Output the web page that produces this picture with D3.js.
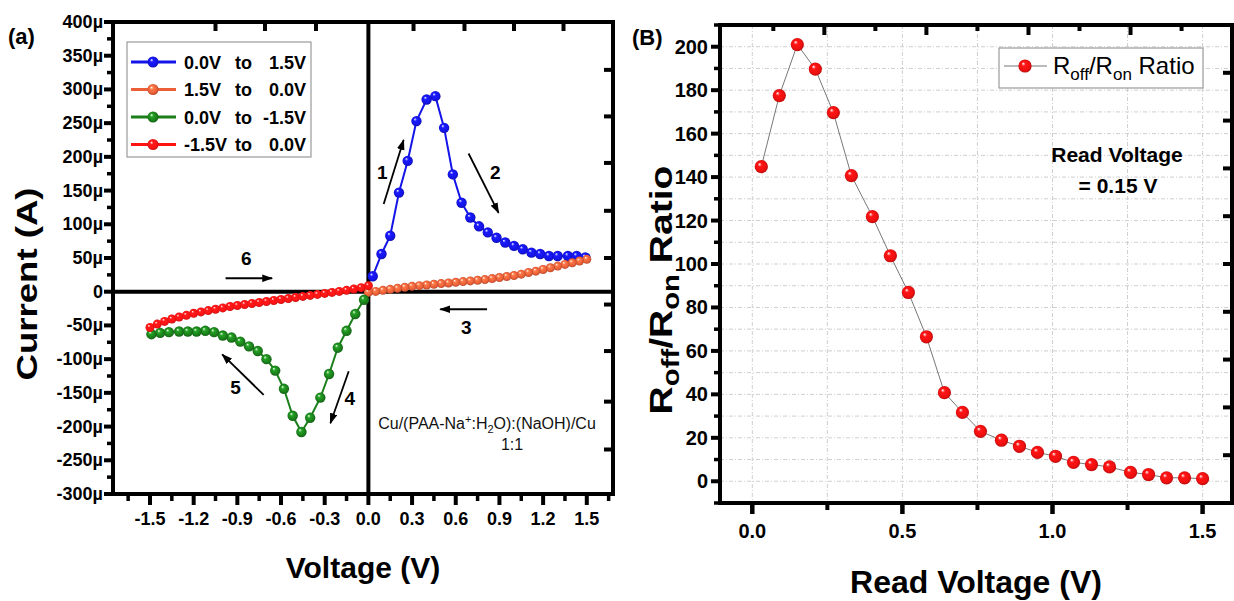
<!DOCTYPE html>
<html><head><meta charset="utf-8">
<script src="https://cdn.jsdelivr.net/npm/d3@7/dist/d3.min.js"></script>
<style>
body{margin:0;background:#fff}
text{font-family:"Liberation Sans",Arial,sans-serif}
</style>
</head><body>
<svg id="c" width="1234" height="601"></svg>
<script>
// ---------------- DATA ----------------
// Panel (a): sweep voltages (V) for 0->1.5 (blue) and 0->-1.5 (green, negated)
const sweepV = [0.03,0.09,0.15,0.21,0.27,0.33,0.40,0.46,0.52,0.58,0.64,0.70,0.76,0.82,0.88,0.94,1.00,1.06,1.12,1.18,1.24,1.30,1.37,1.43,1.49];
const blueI  = [23,56,83,147,194,253,285,290,243,174,132,110,97,88,80,73,68,63,58,56,53,53,53,53,51];        // µA
const greenI = [-12,-33,-58,-83,-122,-157,-187,-208,-184,-144,-117,-100,-88,-81,-74,-68,-65,-60,-58,-59,-59,-59,-60,-61,-63]; // µA at -sweepV
// dense return sweeps
const denseV  = [0,0.05,0.10,0.15,0.20,0.25,0.30,0.35,0.40,0.45,0.50,0.55,0.60,0.65,0.70,0.75,0.80,0.85,0.90,0.95,1.00,1.05,1.10,1.15,1.20,1.25,1.30,1.35,1.40,1.45,1.50];
const orangeI = [-1,0.5,2,3.5,5,6.5,8,9,10,11,12,13,14,15,16,17,18,19.5,21,22.5,24,26,28.5,30.5,33,35.5,38,40.5,43,45.5,48]; // at +denseV
const redI    = [9,6,4,2,0.5,-1,-2.5,-4,-5.5,-7,-8.5,-10,-11.5,-13,-14.5,-16,-17.5,-19,-20.5,-22,-24,-26,-28,-30,-32,-35,-37.5,-40.5,-44,-48,-53]; // at -denseV
const seriesNamesA = ["0.0V  to   1.5V","1.5V  to   0.0V","0.0V  to  -1.5V","-1.5V  to   0.0V"];
const seriesColorsA = ["#1414e8","#ea5f38","#1b7f1b","#ff1414"];
const xTicksA = [-1.5,-1.2,-0.9,-0.6,-0.3,0.0,0.3,0.6,0.9,1.2,1.5];
const yTicksA = [-300,-250,-200,-150,-100,-50,0,50,100,150,200,250,300,350,400];

// Panel (B)
const readV = [0.03,0.09,0.15,0.21,0.27,0.33,0.40,0.46,0.52,0.58,0.64,0.70,0.76,0.83,0.89,0.95,1.01,1.07,1.13,1.19,1.26,1.32,1.38,1.44,1.50];
const ratio = [144.8,177.5,201,189.7,169.7,140.7,121.8,103.8,86.9,66.5,40.8,31.7,23,18.9,16.1,13.3,11.5,8.7,7.7,6.6,4.1,3.1,1.6,1.6,1.2];
const xTicksB = [0,0.5,1.0,1.5];
const yTicksB = [0,20,40,60,80,100,120,140,160,180,200];

// annotations for panel (a) in data units [V, µA]
const arrowsA = [
  {label:"1", from:[0.105,130], to:[0.242,225], at:[0.095,178]},
  {label:"2", from:[0.688,205], to:[0.894,117], at:[0.872,178]},
  {label:"3", from:[0.815,-26], to:[0.494,-26], at:[0.673,-53]},
  {label:"4", from:[-0.135,-118], to:[-0.261,-195], at:[-0.128,-157]},
  {label:"5", from:[-0.719,-153], to:[-1.004,-93], at:[-0.913,-142]},
  {label:"6", from:[-0.981,20], to:[-0.661,20], at:[-0.839,50]}
];

// ---------------- DRAW ----------------
const fmt1 = v => d3.format(".1f")(v).replace("\u2212","-");
const svg = d3.select("#c");
const defs = svg.append("defs");
function sphere(id,color){
  const c=d3.color(color);
  const g=defs.append("radialGradient").attr("id",id)
    .attr("cx","50%").attr("cy","50%").attr("r","55%").attr("fx","35%").attr("fy","30%");
  g.append("stop").attr("offset","0%").attr("stop-color","#ffffff");
  g.append("stop").attr("offset","28%").attr("stop-color",c.brighter(0.7).formatHex());
  g.append("stop").attr("offset","70%").attr("stop-color",color);
  g.append("stop").attr("offset","100%").attr("stop-color",c.darker(0.9).formatHex());
}
seriesColorsA.forEach((c,i)=>sphere("g"+i,c));
sphere("gB","#f01010");
defs.append("marker").attr("id","arr").attr("viewBox","0 0 10 7")
  .attr("refX",9).attr("refY",3.5).attr("markerWidth",11).attr("markerHeight",8)
  .attr("markerUnits","userSpaceOnUse").attr("orient","auto")
  .append("path").attr("d","M0,0L10,3.5L0,7z").attr("fill","#000");

// ===== Panel (a) =====
const xA = d3.scaleLinear().domain([-1.754,1.68]).range([113,613]);
const yA = d3.scaleLinear().domain([-300,400]).range([494,22]);
const gA = svg.append("g");

// zero lines
gA.append("line").attr("x1",xA(0)).attr("x2",xA(0)).attr("y1",yA(400)).attr("y2",yA(-300)).attr("stroke","#000").attr("stroke-width",4);
gA.append("line").attr("x1",xA.range()[0]).attr("x2",xA.range()[1]).attr("y1",yA(0)).attr("y2",yA(0)).attr("stroke","#000").attr("stroke-width",4);

const seriesA = [
  {pts: sweepV.map((v,i)=>[v,blueI[i]]), r:5.2},
  {pts: denseV.map((v,i)=>[v,orangeI[i]]).reverse(), r:4.5},
  {pts: sweepV.map((v,i)=>[-v,greenI[i]]), r:5.2},
  {pts: denseV.map((v,i)=>[-v,redI[i]]).reverse(), r:4.5}
];
const lineGen = d3.line().x(d=>xA(d[0])).y(d=>yA(d[1]));
seriesA.forEach((s,i)=>{
  gA.append("path").attr("d",lineGen(s.pts)).attr("fill","none").attr("stroke",seriesColorsA[i]).attr("stroke-width",2);
  gA.selectAll(null).data(s.pts).enter().append("circle")
    .attr("cx",d=>xA(d[0])).attr("cy",d=>yA(d[1])).attr("r",s.r).attr("fill","url(#g"+i+")");
});

// frame
gA.append("rect").attr("x",113).attr("y",22).attr("width",500).attr("height",472).attr("fill","none").attr("stroke","#000").attr("stroke-width",4);

// bottom axis ticks
const minorXA = d3.range(-1.65,1.70,0.3);
gA.selectAll(null).data(xTicksA).enter().append("line")
  .attr("x1",d=>xA(d)).attr("x2",d=>xA(d)).attr("y1",494).attr("y2",505).attr("stroke","#000").attr("stroke-width",4);
gA.selectAll(null).data(minorXA).enter().append("line")
  .attr("x1",d=>xA(d)).attr("x2",d=>xA(d)).attr("y1",494).attr("y2",501).attr("stroke","#000").attr("stroke-width",3.5);
gA.selectAll(null).data(xTicksA).enter().append("text")
  .attr("x",d=>xA(d)).attr("y",525).attr("text-anchor","middle").attr("font-size",18).attr("font-weight","bold")
  .text(d=>fmt1(d));
// left axis
const minorYA = d3.range(-275,400,50);
gA.selectAll(null).data(yTicksA).enter().append("line")
  .attr("x1",104).attr("x2",113).attr("y1",d=>yA(d)).attr("y2",d=>yA(d)).attr("stroke","#000").attr("stroke-width",4);
gA.selectAll(null).data(minorYA).enter().append("line")
  .attr("x1",107).attr("x2",113).attr("y1",d=>yA(d)).attr("y2",d=>yA(d)).attr("stroke","#000").attr("stroke-width",3.5);
gA.selectAll(null).data(yTicksA).enter().append("text")
  .attr("x",103).attr("y",d=>yA(d)+6).attr("text-anchor","end").attr("font-size",18).attr("font-weight","bold")
  .text(d=>d===0?"0":d+"\u00b5");
// top inward ticks
const topTicksA = [-1.05,-0.71,-0.36,0.31,0.66,1.0,1.34];
gA.selectAll(null).data(topTicksA).enter().append("line")
  .attr("x1",d=>xA(d)).attr("x2",d=>xA(d)).attr("y1",22).attr("y2",31).attr("stroke","#000").attr("stroke-width",4);
const rightTicksA = [329,260,191,120,50,-19,-88,-163,-234];
gA.selectAll(null).data(rightTicksA).enter().append("line")
  .attr("x1",604).attr("x2",613).attr("y1",d=>yA(d)).attr("y2",d=>yA(d)).attr("stroke","#000").attr("stroke-width",4);

// axis titles
gA.append("text").attr("transform","translate(37,284) rotate(-90) scale(1.22,1)")
  .attr("text-anchor","middle").attr("font-size",30).attr("font-weight","bold").text("Current (A)");
gA.append("text").attr("x",363).attr("y",578).attr("text-anchor","middle").attr("font-size",30).attr("font-weight","bold").text("Voltage (V)");
svg.append("text").attr("x",8).attr("y",44).attr("font-size",22).attr("font-weight","bold").text("(a)");

// legend (a)
const lg = gA.append("g");
lg.append("rect").attr("x",127).attr("y",42).attr("width",184).attr("height",115).attr("fill","#fff").attr("stroke","#9a9a9a").attr("stroke-width",1.2);
seriesNamesA.forEach((n,i)=>{
  const cy = 62 + i*27.5;
  lg.append("line").attr("x1",131).attr("x2",176).attr("y1",cy).attr("y2",cy).attr("stroke",seriesColorsA[i]).attr("stroke-width",3);
  lg.append("circle").attr("cx",153).attr("cy",cy).attr("r",5.5).attr("fill","url(#g"+i+")");
  const parts = n.split(/\s+to\s+/);
  lg.append("text").attr("x",184).attr("y",cy+6.5).attr("font-size",18).attr("font-weight","bold").text(parts[0]);
  lg.append("text").attr("x",235).attr("y",cy+6.5).attr("font-size",18).attr("font-weight","bold").text("to");
  lg.append("text").attr("x",306).attr("y",cy+6.5).attr("text-anchor","end").attr("font-size",18).attr("font-weight","bold").text(parts[1]);
});

// arrows
arrowsA.forEach(a=>{
  gA.append("line").attr("x1",xA(a.from[0])).attr("y1",yA(a.from[1])).attr("x2",xA(a.to[0])).attr("y2",yA(a.to[1]))
    .attr("stroke","#000").attr("stroke-width",1.8).attr("marker-end","url(#arr)");
  gA.append("text").attr("x",xA(a.at[0])).attr("y",yA(a.at[1])+7).attr("text-anchor","middle")
    .attr("font-size",19).attr("font-weight","bold").text(a.label);
});
// device label
const dl = gA.append("text").attr("x",487).attr("y",429).attr("text-anchor","middle").attr("font-size",16).attr("fill","#111");
dl.append("tspan").text("Cu/(PAA-Na");
dl.append("tspan").attr("font-size",11).attr("dy",-6).text("+");
dl.append("tspan").attr("dy",6).text(":H");
dl.append("tspan").attr("font-size",11).attr("dy",4).text("2");
dl.append("tspan").attr("dy",-4).text("O):(NaOH)/Cu");
gA.append("text").attr("x",512).attr("y",450).attr("text-anchor","middle").attr("font-size",16).attr("fill","#111").text("1:1");

// ===== Panel (B) =====
const xB = d3.scaleLinear().domain([-0.1076,1.598]).range([720,1232]);
const yB = d3.scaleLinear().domain([-10,210]).range([503,25]);
const gB = svg.append("g");
// grid
const gridX = d3.range(0,1.51,0.25);
const gridY = d3.range(0,201,10);
gB.selectAll(null).data(gridX).enter().append("line")
  .attr("x1",d=>xB(d)).attr("x2",d=>xB(d)).attr("y1",25).attr("y2",503)
  .attr("stroke","#cfcfcf").attr("stroke-width",1).attr("stroke-dasharray","4,2,1,2");
gB.selectAll(null).data(gridY).enter().append("line")
  .attr("x1",720).attr("x2",1232).attr("y1",d=>yB(d)).attr("y2",d=>yB(d))
  .attr("stroke","#cfcfcf").attr("stroke-width",1).attr("stroke-dasharray","4,2,1,2");
// data
const ptsB = readV.map((v,i)=>[v,ratio[i]]);
gB.append("path").attr("d",d3.line().x(d=>xB(d[0])).y(d=>yB(d[1]))(ptsB)).attr("fill","none").attr("stroke","#777").attr("stroke-width",1);
gB.selectAll(null).data(ptsB).enter().append("circle")
  .attr("cx",d=>xB(d[0])).attr("cy",d=>yB(d[1])).attr("r",6.6).attr("fill","url(#gB)");
// frame
gB.append("rect").attr("x",720).attr("y",25).attr("width",512).attr("height",478).attr("fill","none").attr("stroke","#000").attr("stroke-width",4);
// bottom ticks
const minorXB = [0.25,0.75,1.25];
gB.selectAll(null).data(xTicksB).enter().append("line")
  .attr("x1",d=>xB(d)).attr("x2",d=>xB(d)).attr("y1",503).attr("y2",514).attr("stroke","#000").attr("stroke-width",4.5);
gB.selectAll(null).data(minorXB).enter().append("line")
  .attr("x1",d=>xB(d)).attr("x2",d=>xB(d)).attr("y1",503).attr("y2",510).attr("stroke","#000").attr("stroke-width",4);
gB.selectAll(null).data(xTicksB).enter().append("text")
  .attr("x",d=>xB(d)).attr("y",538).attr("text-anchor","middle").attr("font-size",20).attr("font-weight","bold")
  .text(d=>fmt1(d));
// left ticks
const minorYB = d3.range(-10,211,20);
gB.selectAll(null).data(yTicksB).enter().append("line")
  .attr("x1",711).attr("x2",720).attr("y1",d=>yB(d)).attr("y2",d=>yB(d)).attr("stroke","#000").attr("stroke-width",4);
gB.selectAll(null).data(minorYB).enter().append("line")
  .attr("x1",714).attr("x2",720).attr("y1",d=>yB(d)).attr("y2",d=>yB(d)).attr("stroke","#000").attr("stroke-width",3.5);
gB.selectAll(null).data(yTicksB).enter().append("text")
  .attr("x",708).attr("y",d=>yB(d)+7).attr("text-anchor","end").attr("font-size",20).attr("font-weight","bold").text(d=>d);
// top / right inward ticks
const topTicksB = [0.07,0.24,0.41,0.58,0.75,0.92,1.09,1.26,1.43];
gB.selectAll(null).data(topTicksB).enter().append("line")
  .attr("x1",d=>xB(d)).attr("x2",d=>xB(d)).attr("y1",25).attr("y2",(d,i)=>i%2?35:31).attr("stroke","#000").attr("stroke-width",4);
const rightTicksB = [188,166,144,122,100,78,56,34,12];
gB.selectAll(null).data(rightTicksB).enter().append("line")
  .attr("x1",1223).attr("x2",1232).attr("y1",d=>yB(d)).attr("y2",d=>yB(d)).attr("stroke","#000").attr("stroke-width",4);

// titles
const yt = gB.append("text").attr("transform","translate(672,290) rotate(-90) scale(1.22,1)")
  .attr("text-anchor","middle").attr("font-size",32).attr("font-weight","bold");
yt.append("tspan").text("R");
yt.append("tspan").attr("font-size",24).attr("dy",7).text("off");
yt.append("tspan").attr("dy",-7).text("/R");
yt.append("tspan").attr("font-size",24).attr("dy",7).text("on");
yt.append("tspan").attr("dy",-7).text(" Ratio");
gB.append("text").attr("x",976).attr("y",593).attr("text-anchor","middle").attr("font-size",32).attr("font-weight","bold").text("Read Voltage (V)");
svg.append("text").attr("x",632).attr("y",45).attr("font-size",22).attr("font-weight","bold").text("(B)");

// legend B
gB.append("rect").attr("x",999).attr("y",48).attr("width",204).attr("height",40).attr("fill","#fff").attr("stroke","#9a9a9a").attr("stroke-width",1.2);
gB.append("line").attr("x1",1004).attr("x2",1047).attr("y1",66).attr("y2",66).attr("stroke","#777").attr("stroke-width",1);
gB.append("circle").attr("cx",1025).attr("cy",66).attr("r",6.6).attr("fill","url(#gB)");
const lt = gB.append("text").attr("x",1053).attr("y",74).attr("font-size",24);
lt.append("tspan").text("R");
lt.append("tspan").attr("font-size",17).attr("dy",6).text("off");
lt.append("tspan").attr("dy",-6).text("/R");
lt.append("tspan").attr("font-size",17).attr("dy",6).text("on");
lt.append("tspan").attr("dy",-6).text(" Ratio");
// annotation
gB.append("text").attr("x",1117).attr("y",162).attr("text-anchor","middle").attr("font-size",21).attr("font-weight","bold").text("Read Voltage");
gB.append("text").attr("x",1118).attr("y",193).attr("text-anchor","middle").attr("font-size",21).attr("font-weight","bold").text("= 0.15 V");
</script>
</body></html>
